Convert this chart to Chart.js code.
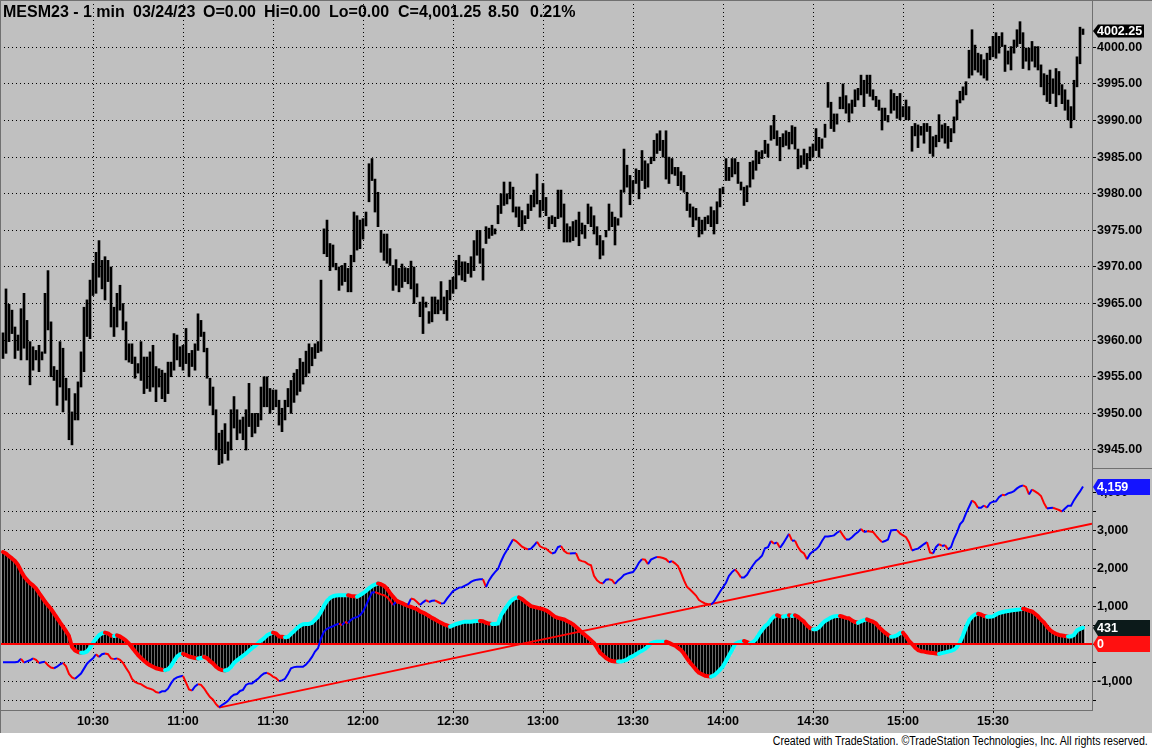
<!DOCTYPE html>
<html>
<head>
<meta charset="utf-8">
<script src="https://cdn.jsdelivr.net/npm/chart.js@4.4.1/dist/chart.umd.min.js"></script>
<style>
  html, body { margin: 0; padding: 0; background: #c0c0c0; }
  body { width: 1152px; height: 748px; position: relative; overflow: hidden; font-family: 'Liberation Sans', Arial, sans-serif; }
  #top { position: absolute; left: 0; top: 0; width: 1152px; height: 468px; }
  #bottom { position: absolute; left: 0; top: 468px; width: 1152px; height: 265px; }
  .hdr { position: absolute; top: 4px; font-weight: bold; font-size: 16px; line-height: 16px; color: #000; white-space: pre; }
  #footer { position: absolute; left: 0; top: 733px; width: 1152px; height: 15px; background: #fff; }
  #footer span { position: absolute; right: 4px; top: 1px; font-family: 'Liberation Sans', Arial, sans-serif; font-size: 12px; line-height: 14px; color: #000; white-space: nowrap; transform: scaleX(0.885); transform-origin: right center; }
  .edge { position: absolute; background: #707070; }
</style>
</head>
<body>
<canvas id="top" width="1152" height="468"></canvas>
<canvas id="bottom" width="1152" height="265"></canvas>

<div class="edge" style="left:0;top:0;width:1152px;height:1px"></div>
<div class="edge" style="left:0;top:0;width:1px;height:733px"></div>
<div class="edge" style="left:1092px;top:468px;width:60px;height:1px"></div>

<div class="hdr" style="left:3px">MESM23 - 1 min</div>
<div class="hdr" style="left:133px">03/24/23</div>
<div class="hdr" style="left:203px">O=0.00</div>
<div class="hdr" style="left:264px">Hi=0.00</div>
<div class="hdr" style="left:329px">Lo=0.00</div>
<div class="hdr" style="left:398px">C=4,001.25</div>
<div class="hdr" style="left:488px">8.50</div>
<div class="hdr" style="left:530px">0.21%</div>

<div id="footer"><span>Created with TradeStation. ©TradeStation Technologies, Inc. All rights reserved.</span></div>

<script>
// one bar per minute, first bar 10:00
const startMinute = 600;
const xMin = 599, xMax = 963;

const tickMinutes = [630, 660, 690, 720, 750, 780, 810, 840, 870, 900, 930];
const tickLabels = ['10:30', '11:00', '11:30', '12:00', '12:30', '13:00', '13:30', '14:00', '14:30', '15:00', '15:30'];
const priceTicks = [3945, 3950, 3955, 3960, 3965, 3970, 3975, 3980, 3985, 3990, 3995, 4000];
const indicatorTicks = [-1500, -1000, -500, 0, 500, 1000, 1500, 2000, 2500, 3000, 3500, 4000];
const lastClose = 4002.25;

const highs = [
  3961.0,3967.0,3964.9,3964.1,3961.8,3960.7,3964.3,3966.4,3962.7,3959.8,
  3959.1,3958.6,3959.3,3958.4,3966.4,3969.5,3962.5,3956.4,3955.9,3959.8,
  3958.9,3954.8,3953.4,3950.2,3952.7,3954.3,3958.4,3964.5,3965.5,3968.2,
  3970.5,3972.0,3973.6,3970.9,3971.4,3970.9,3970.0,3964.5,3966.4,3967.5,
  3965.0,3962.5,3959.5,3959.5,3957.7,3956.8,3959.8,3957.7,3957.7,3958.4,
  3959.3,3956.4,3956.1,3955.9,3955.5,3957.0,3957.0,3960.9,3960.7,3959.1,
  3959.3,3961.6,3958.2,3958.6,3959.5,3963.6,3962.7,3961.1,3958.9,3954.8,
  3953.6,3950.5,3947.3,3947.7,3948.6,3946.1,3950.5,3952.3,3950.5,3949.1,
  3949.5,3950.5,3954.1,3950.0,3950.0,3950.0,3953.6,3955.0,3955.0,3953.4,
  3953.2,3953.2,3951.8,3950.7,3951.8,3953.4,3954.5,3955.5,3956.0,3957.5,
  3957.0,3958.5,3959.5,3959.0,3959.5,3959.8,3968.2,3975.2,3976.4,3973.2,
  3973.0,3970.5,3970.0,3970.2,3970.5,3969.8,3971.6,3977.5,3977.0,3976.4,
  3976.6,3977.5,3984.1,3984.8,3982.0,3980.2,3975.0,3974.5,3974.5,3972.5,
  3970.2,3971.0,3969.8,3970.4,3969.9,3969.8,3970.8,3970.0,3967.7,3965.2,
  3965.9,3965.2,3963.9,3965.9,3965.9,3965.5,3968.0,3965.9,3966.8,3968.2,
  3968.6,3970.9,3971.6,3970.7,3970.7,3970.5,3971.4,3973.6,3975.0,3975.0,
  3972.5,3975.5,3975.3,3975.7,3975.2,3978.4,3980.0,3981.6,3980.0,3981.6,
  3980.9,3978.2,3978.2,3977.7,3977.0,3978.6,3979.8,3980.5,3982.7,3979.1,
  3981.4,3979.5,3976.8,3977.0,3976.8,3980.5,3980.5,3978.6,3975.9,3975.5,
  3976.2,3976.4,3977.5,3976.0,3975.7,3978.6,3978.2,3977.0,3975.5,3974.3,
  3973.6,3975.0,3978.6,3977.5,3976.8,3976.6,3980.5,3986.1,3983.9,3982.5,
  3981.8,3983.4,3983.2,3985.9,3984.5,3984.1,3985.0,3987.3,3988.2,3988.6,
  3987.3,3988.6,3985.0,3984.8,3983.6,3983.6,3983.0,3982.5,3980.2,3978.6,
  3978.2,3978.0,3976.8,3976.4,3976.8,3977.0,3978.2,3977.7,3978.9,3980.7,
  3980.9,3984.8,3983.6,3984.8,3984.8,3984.3,3981.6,3980.9,3981.1,3984.3,
  3984.5,3985.9,3985.7,3985.9,3987.3,3986.8,3989.3,3990.7,3988.6,3987.7,
  3988.2,3988.6,3988.4,3989.3,3989.1,3986.1,3985.2,3986.1,3985.5,3986.4,
  3986.8,3988.9,3987.7,3987.5,3989.5,3995.2,3992.5,3990.9,3990.9,3993.2,
  3995.0,3993.4,3992.3,3992.8,3994.2,3994.4,3996.2,3995.5,3996.2,3996.2,
  3994.2,3993.3,3992.8,3991.7,3991.7,3990.7,3994.2,3993.7,3993.3,3993.7,
  3991.9,3992.8,3991.9,3989.2,3989.6,3989.4,3989.2,3989.6,3989.6,3989.2,
  3987.8,3988.0,3990.8,3989.4,3989.6,3989.2,3988.9,3990.5,3992.8,3994.0,
  3994.6,3995.3,3999.6,4002.4,4000.3,3999.2,3999.0,3998.3,3999.2,4000.1,
  4001.5,4002.0,4001.5,4002.0,4000.3,3999.5,4000.1,4001.0,4002.4,4003.5,
  4002.0,3999.9,3999.9,4000.8,4000.1,4000.1,3997.6,3996.4,3996.2,3996.9,
  3995.7,3997.1,3996.7,3994.9,3994.2,3992.8,3991.9,3995.5,3998.7,4002.75,4002.5
];

const lows = [
  3957.5,3958.2,3959.8,3960.9,3957.5,3958.6,3957.3,3958.9,3957.3,3953.9,
  3955.9,3957.3,3955.7,3957.3,3958.2,3961.4,3955.0,3954.5,3951.1,3953.6,
  3950.2,3951.8,3946.4,3945.7,3949.1,3949.1,3953.6,3955.7,3960.5,3960.2,
  3966.1,3966.4,3968.6,3967.0,3965.5,3968.0,3961.8,3960.5,3961.8,3964.1,
  3961.4,3957.3,3957.0,3956.8,3954.8,3955.5,3954.5,3952.7,3953.4,3953.0,
  3953.6,3951.6,3953.6,3952.0,3951.6,3952.7,3955.0,3955.9,3957.3,3956.4,
  3955.9,3956.8,3955.0,3956.4,3955.9,3958.6,3960.5,3958.4,3954.8,3951.1,
  3949.8,3945.0,3943.0,3943.2,3944.5,3943.6,3945.0,3948.0,3946.4,3947.3,
  3946.4,3945.0,3948.2,3946.8,3947.3,3948.2,3949.1,3950.9,3950.9,3950.0,
  3950.5,3950.9,3948.4,3947.5,3949.1,3950.9,3950.0,3951.5,3952.5,3953.0,
  3954.0,3955.0,3955.5,3956.5,3957.5,3958.3,3958.5,3971.8,3971.4,3969.5,
  3970.0,3969.6,3966.8,3967.5,3968.0,3966.6,3966.6,3970.7,3972.3,3972.5,
  3973.8,3975.6,3978.9,3981.8,3977.5,3975.5,3972.0,3970.9,3970.5,3970.2,
  3966.8,3967.5,3966.6,3967.2,3968.0,3967.7,3967.0,3965.0,3965.9,3963.2,
  3960.9,3964.5,3962.3,3962.5,3963.6,3963.6,3964.1,3963.6,3962.7,3965.5,
  3966.4,3967.0,3968.9,3968.2,3968.0,3969.1,3968.6,3969.5,3971.6,3970.5,
  3968.2,3973.2,3973.9,3974.3,3974.5,3975.9,3977.3,3978.4,3978.6,3979.3,
  3977.5,3976.8,3975.5,3975.0,3975.9,3976.6,3977.7,3978.2,3978.6,3976.8,
  3977.7,3977.0,3975.2,3975.9,3975.5,3976.6,3976.8,3973.4,3973.4,3973.4,
  3973.6,3974.1,3972.9,3974.5,3973.9,3975.9,3975.5,3974.5,3973.0,3971.1,
  3971.6,3974.1,3975.0,3975.5,3973.0,3975.7,3976.8,3980.2,3980.9,3978.5,
  3980.0,3981.4,3979.3,3981.8,3980.7,3980.9,3984.1,3984.5,3985.5,3985.9,
  3985.0,3982.0,3981.4,3982.7,3982.5,3981.1,3980.5,3980.2,3977.7,3976.8,
  3975.5,3976.4,3974.1,3974.5,3975.0,3975.9,3975.5,3974.5,3975.9,3978.2,
  3980.0,3981.8,3981.8,3982.3,3982.7,3981.4,3980.5,3978.4,3978.9,3980.9,
  3982.0,3983.2,3984.1,3984.8,3985.5,3985.0,3987.3,3987.5,3986.6,3984.5,
  3986.4,3986.6,3986.1,3986.8,3986.1,3983.4,3983.6,3984.0,3983.4,3984.5,
  3985.0,3985.9,3985.0,3986.2,3987.7,3991.8,3988.9,3988.5,3989.5,3991.6,
  3991.6,3991.0,3989.8,3991.0,3991.9,3992.8,3993.5,3991.9,3993.7,3993.3,
  3992.8,3991.9,3991.4,3988.7,3990.0,3989.8,3991.0,3991.4,3990.3,3990.1,
  3990.5,3990.1,3990.1,3985.8,3987.9,3986.3,3988.0,3986.9,3988.5,3985.5,
  3985.1,3986.4,3987.1,3987.6,3986.9,3986.2,3987.1,3988.3,3990.1,3992.4,
  3992.8,3993.5,3995.8,3996.2,3996.9,3996.6,3996.2,3995.8,3995.5,3998.3,
  3998.7,3998.5,3999.2,4000.1,3996.7,3997.7,3996.9,3999.2,4000.1,4000.5,
  3997.1,3998.1,3996.9,3998.1,3997.3,3996.9,3994.6,3993.5,3992.6,3992.3,
  3993.7,3991.9,3993.5,3992.3,3991.4,3990.1,3989.0,3990.1,3994.6,3997.75,4001.75
];

// cumulative indicator line (blue up / red down)
const cumulative = [
  -480,-480,-480,-480,-480,-470,-390,-490,-460,-430,
  -380,-420,-500,-480,-470,-560,-620,-640,-600,-540,
  -500,-590,-790,-880,-920,-850,-780,-650,-520,-440,
  -380,-270,-340,-270,-250,-270,-380,-400,-380,-420,
  -500,-630,-750,-920,-1000,-1040,-1060,-1110,-1160,-1180,
  -1210,-1270,-1290,-1250,-1250,-1180,-1040,-930,-880,-860,
  -840,-1020,-1200,-1230,-1120,-1060,-1080,-1170,-1290,-1400,
  -1470,-1590,-1670,-1610,-1560,-1500,-1400,-1340,-1320,-1240,
  -1210,-1080,-1040,-1040,-980,-920,-840,-780,-760,-800,
  -860,-900,-980,-960,-920,-790,-640,-610,-600,-600,
  -600,-540,-450,-340,-200,-110,150,330,400,440,
  470,510,540,500,580,550,640,690,710,760,
  860,1020,1200,1360,1370,1340,1310,1290,1240,1150,
  1030,1100,1090,1070,1050,1030,1200,1180,1110,1030,
  1100,1160,1110,1140,1150,1110,1070,1080,1200,1300,
  1400,1440,1490,1500,1540,1580,1640,1680,1700,1710,
  1710,1500,1680,1800,1900,1980,2180,2350,2480,2620,
  2760,2720,2650,2570,2530,2500,2520,2600,2700,2580,
  2540,2520,2450,2390,2420,2560,2590,2460,2400,2390,
  2400,2400,2220,2190,2170,2110,2080,1800,1680,1620,
  1600,1700,1710,1690,1590,1680,1740,1830,1860,1880,
  1900,2010,2150,2240,2230,2110,2230,2270,2300,2290,
  2270,2240,2160,2190,2130,2060,1880,1680,1510,1440,
  1360,1280,1160,1110,1070,1050,1040,1120,1250,1380,
  1500,1620,1800,1900,1970,1880,1760,1760,1830,1960,
  2080,2190,2250,2330,2530,2560,2720,2650,2680,2540,
  2650,2780,2910,2730,2730,2560,2450,2390,2240,2380,
  2450,2500,2580,2720,2840,2840,2850,2870,2940,2990,
  2870,2760,2760,2820,2900,2960,3040,2960,2980,2970,
  2960,2860,2770,2690,2720,2760,3000,3010,3010,2920,
  2870,2820,2690,2470,2500,2520,2580,2640,2690,2420,
  2390,2560,2640,2590,2610,2500,2560,2780,2950,3160,
  3250,3450,3620,3790,3730,3600,3600,3660,3600,3720,
  3760,3770,3880,3940,3930,3980,4000,4040,4110,4160,
  4190,4150,3950,4080,4030,3980,3910,3720,3580,3590,
  3600,3570,3540,3500,3580,3650,3650,3800,3920,4030,4159
];

// histogram (black bars, cyan up / red down outline)
const histogram = [
  2430,2390,2320,2260,2190,2090,1930,1790,1690,1610,
  1550,1470,1350,1240,1120,1020,930,810,690,570,
  460,340,210,-80,-170,-210,-230,-230,-200,-100,
  30,140,230,280,300,280,220,210,230,200,
  150,90,10,-90,-190,-290,-370,-440,-510,-560,
  -600,-640,-660,-680,-690,-670,-580,-450,-330,-270,
  -260,-290,-330,-350,-370,-380,-370,-340,-370,-450,
  -510,-600,-660,-690,-700,-680,-610,-500,-430,-370,
  -310,-250,-180,-110,-50,20,90,150,230,270,
  300,280,200,190,180,190,270,340,420,480,
  520,530,530,560,640,720,850,1010,1140,1220,
  1260,1280,1290,1290,1290,1290,1270,1260,1250,1290,
  1340,1400,1470,1530,1570,1600,1580,1540,1460,1350,
  1250,1160,1110,1080,1040,1010,980,950,920,860,
  830,790,740,690,650,600,560,520,490,460,
  490,530,550,570,590,590,590,600,610,610,
  600,560,540,530,530,540,760,880,1000,1110,
  1180,1220,1230,1190,1120,1060,1000,980,960,940,
  920,890,840,780,720,690,670,650,610,570,
  520,450,380,300,240,170,100,30,-100,-230,
  -300,-370,-420,-450,-460,-465,-465,-440,-410,-350,
  -320,-270,-220,-180,-130,-60,20,50,60,60,
  60,60,30,-10,-40,-100,-160,-260,-380,-490,
  -580,-680,-760,-800,-840,-850,-860,-830,-760,-680,
  -590,-450,-300,-160,0,40,60,80,50,20,
  50,130,260,370,470,530,650,730,760,730,
  720,740,760,740,760,720,650,590,490,420,
  390,390,440,530,610,650,700,730,740,740,
  720,690,680,620,580,560,600,630,650,620,
  590,540,440,370,300,240,190,200,230,290,
  300,200,80,0,-90,-160,-190,-200,-220,-230,
  -240,-250,-260,-240,-220,-200,-180,-150,-80,50,
  230,450,620,720,780,800,780,740,720,720,
  730,780,820,840,860,870,885,895,905,915,
  930,910,880,860,800,730,640,570,460,370,
  310,270,240,225,210,200,200,240,360,400,431
];

// red trend line, in minutes / indicator units
const trendMinutes = [672, 963];
const trendValues = [-1680, 3180];

const BLUE = '#0000ff', RED = '#ff0000', CYAN = '#00ffff';
const LABEL_FONT = { family: "'Liberation Sans', Arial, sans-serif", size: 12.5, weight: 'bold' };

Chart.defaults.font.family = "'Liberation Sans', Arial, sans-serif";

function rightAxisFit(scale) {
  scale.width = 60;
  scale.paddingTop = 0;
  scale.paddingBottom = 0;
}

// price tags on the right axis
function tagPlugin(tags) {
  return {
    id: 'tags',
    afterDraw(chart) {
      const ctx = chart.ctx;
      const ys = chart.scales.y;
      const left = chart.chartArea.right + 1;
      tags.forEach(t => {
        const py = Math.round(ys.getPixelForValue(t.value));
        const h2 = t.h / 2;
        ctx.save();
        ctx.fillStyle = t.bg;
        ctx.beginPath();
        ctx.moveTo(left, py);
        ctx.lineTo(left + 5, py - h2);
        ctx.lineTo(left + t.w, py - h2);
        ctx.lineTo(left + t.w, py + h2);
        ctx.lineTo(left + 5, py + h2);
        ctx.closePath();
        ctx.fill();
        ctx.fillStyle = t.fg;
        ctx.font = 'bold 12.5px "Liberation Sans", Arial, sans-serif';
        ctx.textBaseline = 'middle';
        ctx.textAlign = 'left';
        ctx.fillText(t.text, left + 4, py + 1);
        ctx.restore();
      });
    }
  };
}

const fmt = v => v.toLocaleString('en-US');
const pts = arr => arr.map((v, i) => ({ x: startMinute + i, y: v }));

// ---- price panel
new Chart(document.getElementById('top'), {
  type: 'bar',
  data: {
    datasets: [{
      data: highs.map((h, i) => ({ x: startMinute + i, y: [lows[i], h] })),
      backgroundColor: '#000',
      barThickness: 2,
      grouped: false
    }]
  },
  options: {
    responsive: false, animation: false, devicePixelRatio: 1,
    layout: { padding: 0 },
    plugins: { legend: { display: false }, tooltip: { enabled: false } },
    scales: {
      x: {
        type: 'linear', min: xMin, max: xMax, offset: false,
        afterBuildTicks: s => { s.ticks = tickMinutes.map(v => ({ value: v })); },
        ticks: { display: false },
        grid: { color: '#000', drawTicks: false, offset: false },
        border: { display: false, dash: [1, 3] },
        afterFit: s => { s.height = 0; s.paddingLeft = 0; s.paddingRight = 0; }
      },
      y: {
        position: 'right', min: 3942.54, max: 4006.46,
        afterBuildTicks: s => { s.ticks = priceTicks.map(v => ({ value: v })); },
        ticks: { callback: v => v.toFixed(2), color: '#000', font: LABEL_FONT, padding: 1 },
        grid: { color: '#000', tickLength: 4, tickColor: '#000', tickBorderDash: [] },
        border: { display: true, color: '#707070', dash: [1, 3] },
        afterFit: rightAxisFit
      }
    }
  },
  plugins: [tagPlugin([{ value: lastClose, text: lastClose.toFixed(2), bg: '#000', fg: '#fff', w: 51, h: 13 }])]
});

// ---- indicator panel
new Chart(document.getElementById('bottom'), {
  type: 'bar',
  data: {
    datasets: [
      // pale backing so the gaps between histogram bars read as light stripes
      { type: 'bar', data: pts(histogram), backgroundColor: '#ececec', barThickness: 4, grouped: false, order: 6 },
      { type: 'bar', data: pts(histogram), backgroundColor: '#000', barThickness: 2, grouped: false, order: 5 },
      {
        type: 'line', data: pts(histogram), borderWidth: 4, pointRadius: 0, borderColor: RED,
        borderCapStyle: 'round', borderJoinStyle: 'round', order: 4,
        segment: { borderColor: c => c.p1.parsed.y >= c.p0.parsed.y ? CYAN : RED }
      },
      { type: 'line', data: [{ x: xMin, y: 0 }, { x: xMax, y: 0 }], borderColor: RED, borderWidth: 2, pointRadius: 0, order: 3 },
      {
        type: 'line', data: trendMinutes.map((m, i) => ({ x: m, y: trendValues[i] })),
        borderColor: RED, borderWidth: 2, pointRadius: 0, order: 2
      },
      {
        type: 'line', data: pts(cumulative), borderWidth: 2, pointRadius: 0, borderColor: BLUE, order: 1,
        segment: { borderColor: c => c.p1.parsed.y >= c.p0.parsed.y ? BLUE : RED }
      }
    ]
  },
  options: {
    responsive: false, animation: false, devicePixelRatio: 1,
    layout: { padding: 0 },
    plugins: { legend: { display: false }, tooltip: { enabled: false } },
    scales: {
      x: {
        type: 'linear', min: xMin, max: xMax, offset: false,
        afterBuildTicks: s => { s.ticks = tickMinutes.map(v => ({ value: v })); },
        ticks: { callback: (v, i) => tickLabels[i], color: '#000', font: LABEL_FONT, padding: 1, maxRotation: 0, autoSkip: false },
        grid: { color: '#000', tickLength: 3, tickColor: '#000', tickBorderDash: [], offset: false },
        border: { display: true, color: '#707070', dash: [1, 3] },
        afterFit: s => { s.height = 23; s.paddingLeft = 0; s.paddingRight = 0; }
      },
      y: {
        position: 'right', min: -1743, max: 4649,
        afterBuildTicks: s => { s.ticks = indicatorTicks.map(v => ({ value: v })); },
        ticks: { callback: v => (v % 1000 === 0 ? fmt(v) : ''), color: '#000', font: LABEL_FONT, padding: 1 },
        grid: {
          color: c => (c.tick && c.tick.value > 3500 ? 'rgba(0,0,0,0)' : '#000'),
          tickLength: 4, tickColor: '#000', tickBorderDash: []
        },
        border: { display: true, color: '#707070', dash: [1, 3] },
        afterFit: rightAxisFit
      }
    }
  },
  plugins: [tagPlugin([
    { value: cumulative[cumulative.length - 1], text: fmt(cumulative[cumulative.length - 1]), bg: '#1414ff', fg: '#fff', w: 57, h: 16 },
    { value: histogram[histogram.length - 1], text: fmt(histogram[histogram.length - 1]), bg: '#0c1a1a', fg: '#fff', w: 57, h: 16 },
    { value: 0, text: '0', bg: '#ff1010', fg: '#fff', w: 57, h: 16 }
  ])]
});
</script>
</body>
</html>
